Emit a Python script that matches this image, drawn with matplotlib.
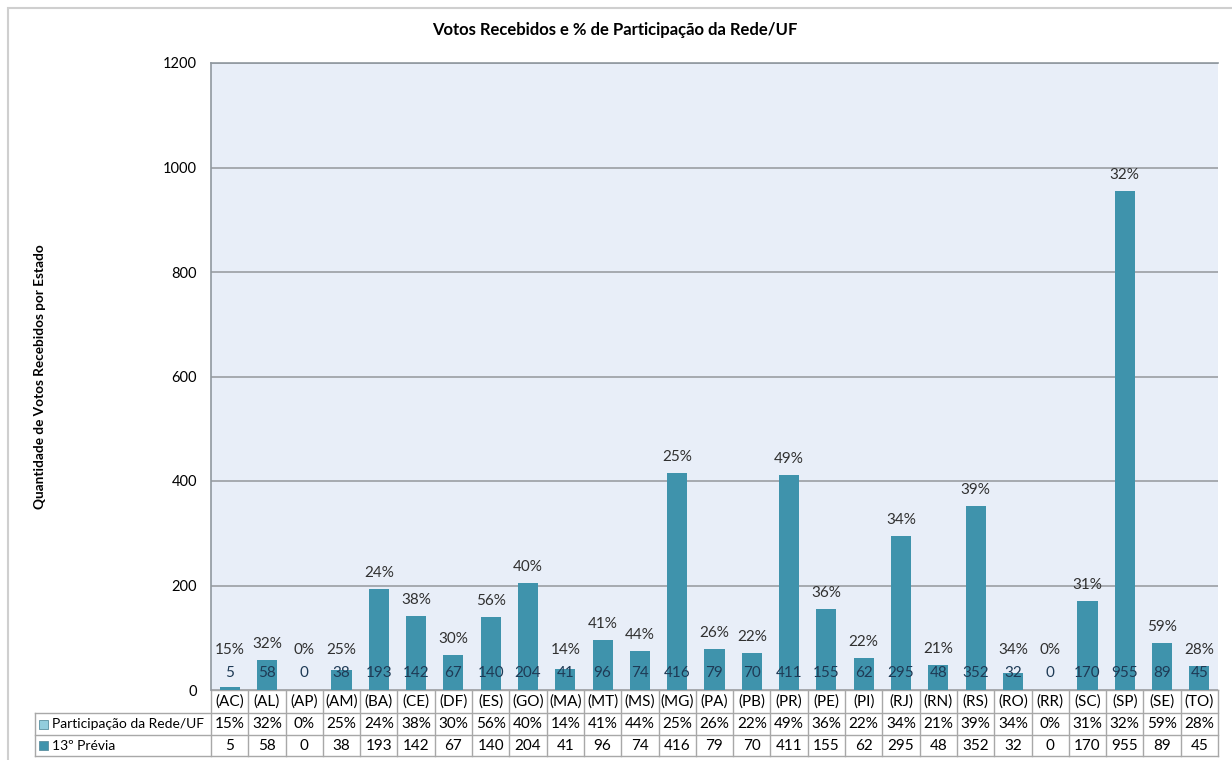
import matplotlib.pyplot as plt
from matplotlib.patches import Rectangle
from matplotlib.transforms import blended_transform_factory
import numpy as np

plt.rcParams['font.family'] = ['Lato', 'DejaVu Sans']

# dados por estado
estados = ["AC", "AL", "AP", "AM", "BA", "CE", "DF", "ES", "GO", "MA", "MT", "MS", "MG", "PA",
           "PB", "PR", "PE", "PI", "RJ", "RN", "RS", "RO", "RR", "SC", "SP", "SE", "TO"]
votos = [5, 58, 0, 38, 193, 142, 67, 140, 204, 41, 96, 74, 416, 79,
         70, 411, 155, 62, 295, 48, 352, 32, 0, 170, 955, 89, 45]
participacao = [15, 32, 0, 25, 24, 38, 30, 56, 40, 14, 41, 44, 25, 26,
                22, 49, 36, 22, 34, 21, 39, 34, 0, 31, 32, 59, 28]
serie_pct = "Participação da Rede/UF"
serie_votos = "13º Prévia"

W, H = 1232, 760
cor_barra = "#3F93AC"
cor_fundo = "#E8EEF8"
cor_grade = "#A0A4AA"
cor_tabela = "#A8A8A8"
fs = 11

fig = plt.figure(figsize=(W / 100, H / 100), dpi=100)
# borda externa do gráfico
fig.patches.append(Rectangle((8 / W, -0.01), 1.1, 1 - 8 / H + 0.01, transform=fig.transFigure,
                             fill=False, ec="#CFCFCF", lw=1.5))

x0, x1, y0, y1 = 211, 1218, 63, 690
ax = fig.add_axes([x0 / W, 1 - y1 / H, (x1 - x0) / W, (y1 - y0) / H])
ax.set_facecolor(cor_fundo)

x = np.arange(len(estados))
ax.bar(x, votos, width=0.54, color=cor_barra, zorder=3)
ax.set_xlim(-0.5, len(estados) - 0.5)
ax.set_ylim(0, 1200)
ax.set_yticks(range(0, 1201, 200))
ax.tick_params(axis="y", length=0, labelsize=10.5, pad=10)
ax.tick_params(axis="x", length=0, labelbottom=False)
ax.grid(axis="y", color=cor_grade, lw=1.3, zorder=1)
for s in ["top", "left"]:
    ax.spines[s].set_color("#9098A0")
    ax.spines[s].set_linewidth(1.2)
for s in ["right", "bottom"]:
    ax.spines[s].set_visible(False)

# rótulos das barras
for xi, v, p in zip(x, votos, participacao):
    ax.text(xi, 32, str(v), ha="center", va="center", fontsize=fs, color="#1E3A55", zorder=4)
    ax.annotate(f"{p}%", (xi, max(v, 45)), xytext=(0, 16), textcoords="offset pixels",
                ha="center", va="center", fontsize=fs, color="#303030", zorder=4)

fig.text(615 / W, 1 - 30 / H, "Votos Recebidos e % de Participação da Rede/UF",
         ha="center", va="center", fontsize=12, fontweight="bold")
fig.text(40 / W, 1 - 377 / H, "Quantidade de Votos Recebidos por Estado",
         rotation=90, ha="center", va="center", fontsize=9.8, fontweight="bold")

# tabela de dados abaixo do eixo
trans = blended_transform_factory(ax.transData, fig.transFigure)
trans_ax = blended_transform_factory(ax.transAxes, fig.transFigure)
linhas = [690, 713, 735, 756]
fy = lambda py: 1 - py / H
left_hdr = (35 - x0) / (x1 - x0)
n = len(estados)

kw = dict(color=cor_tabela, lw=1, clip_on=False)
ax.plot([-0.5, n - 0.5], [fy(linhas[0])] * 2, transform=trans, **kw)
for yy in linhas[1:]:
    ax.plot([left_hdr, 1], [fy(yy)] * 2, transform=trans_ax, **kw)
for i in range(n + 1):
    ax.plot([i - 0.5] * 2, [fy(linhas[0]), fy(linhas[3])], transform=trans, **kw)
ax.plot([left_hdr] * 2, [fy(linhas[1]), fy(linhas[3])], transform=trans_ax, **kw)

for i, e in enumerate(estados):
    ax.text(i, fy((linhas[0] + linhas[1]) / 2), f"({e})", transform=trans,
            ha="center", va="center", fontsize=fs)
    ax.text(i, fy((linhas[1] + linhas[2]) / 2), f"{participacao[i]}%", transform=trans,
            ha="center", va="center", fontsize=fs)
    ax.text(i, fy((linhas[2] + linhas[3]) / 2), str(votos[i]), transform=trans,
            ha="center", va="center", fontsize=fs)

for k, (nome, cor) in enumerate([(serie_pct, "#93CDDD"), (serie_votos, cor_barra)]):
    yc = (linhas[k + 1] + linhas[k + 2]) / 2
    fig.patches.append(Rectangle((39 / W, fy(yc + 4.5)), 9 / W, 9 / H, transform=fig.transFigure,
                                 fc=cor, ec="#5A8FA0", lw=0.6))
    fig.text(52 / W, fy(yc), nome, ha="left", va="center", fontsize=10)

fig.savefig("out.png", dpi=100)
